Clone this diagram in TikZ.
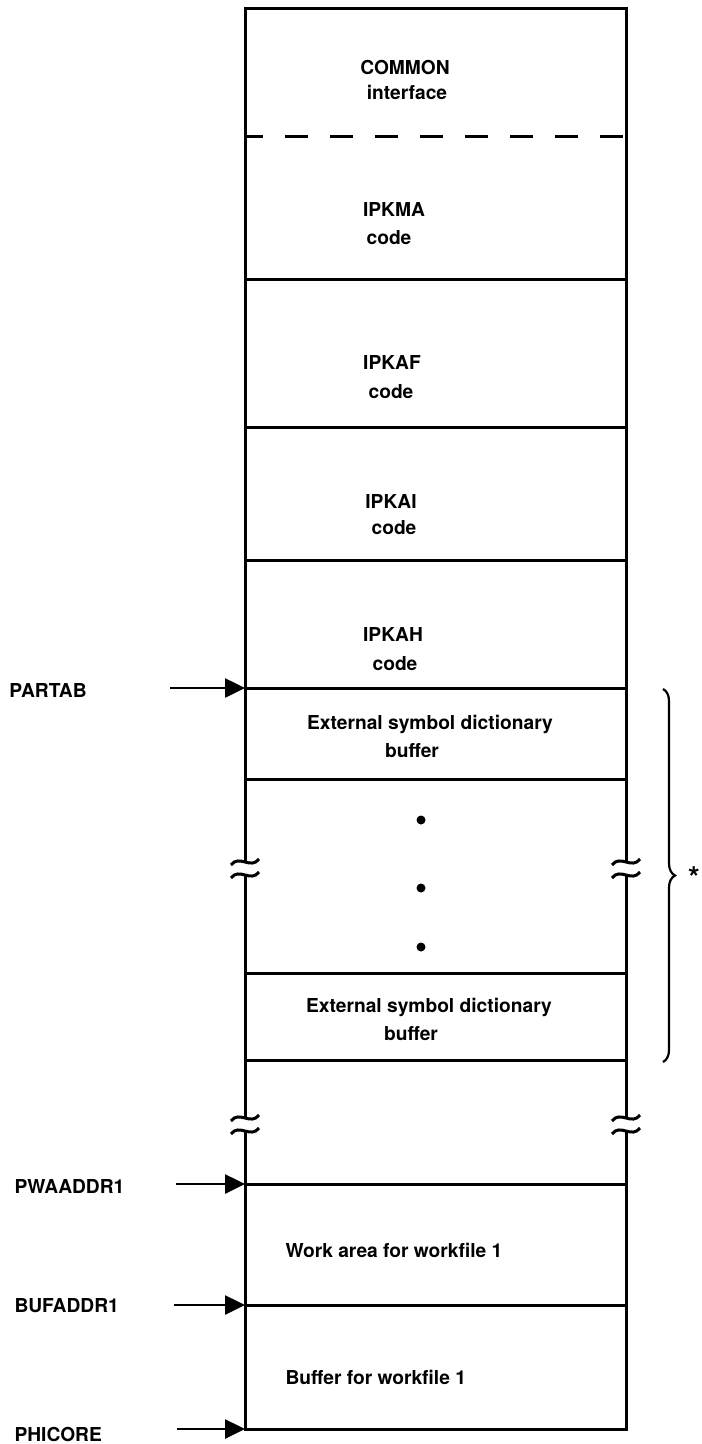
\documentclass[tikz,border=0pt]{standalone}
\usepackage{fontspec}
\setmainfont{TeX Gyre Heros}
\usetikzlibrary{arrows.meta,decorations.pathreplacing}
% one wavy stroke of a break mark, centred at (#1,#2)
\newcommand{\brkmark}[2]{%
  \draw (#1-14,#2+3) .. controls (#1-6,#2-8) and (#1+6,#2+8) .. (#1+14,#2-3);}

\begin{document}
\begin{tikzpicture}[x=0.5pt,y=-0.5pt,line width=1.5pt,
  lbl/.style={font=\fontsize{9.6}{11}\bfseries,anchor=base,inner sep=0pt},
  addr/.style={font=\fontsize{9.6}{11}\bfseries,anchor=base west,inner sep=0pt},
  ptr/.style={line width=1.3pt,-{Triangle[length=10pt,width=9.5pt]}}]
\useasboundingbox (0,0) rectangle (701,1444);
% walls of the storage map, broken twice
\draw (245,862) -- (245,9) -- (626,9) -- (626,862);
\draw (245,875) -- (245,1118);
\draw (626,875) -- (626,1118);
\draw (245,1131) -- (245,1429) -- (626,1429) -- (626,1131);
\foreach \x in {245,626}{
  \brkmark{\x}{862}
  \brkmark{\x}{875}
  \brkmark{\x}{1118}
  \brkmark{\x}{1131}
}
% dividers
\draw[dash pattern=on 11.5pt off 11pt,dash phase=2.5pt] (245,137) -- (626,137);
\foreach \y in {280,427,560,688,779,973,1060,1184,1305}
  \draw (245,\y) -- (626,\y);
% area texts
\node[lbl] (common) at (405,75) {COMMON};
\node[lbl] (commonb) at (407,100) {interface};
\node[lbl] (ipkma) at (394,217) {IPKMA};
\node[lbl] (ipkmab) at (389,245) {code};
\node[lbl] (ipkaf) at (392,370) {IPKAF};
\node[lbl] (ipkafb) at (391,398) {code};
\node[lbl] (ipkai) at (391,508) {IPKAI};
\node[lbl] (ipkaib) at (394,534) {code};
\node[lbl] (ipkah) at (393,641) {IPKAH};
\node[lbl] (ipkahb) at (395,670) {code};
\node[lbl] (esda) at (430,729) {External symbol dictionary};
\node[lbl] (esdab) at (412,757) {buffer};
\node[lbl] (esdb) at (429,1012) {External symbol dictionary};
\node[lbl] (esdbb) at (411,1040) {buffer};
\node[lbl,anchor=base west] (work) at (284,1257) {Work area for workfile 1};
\node[lbl,anchor=base west] (buf) at (284,1384) {Buffer for workfile 1};
\foreach \y in {820,888,947}
  \fill (421,\y) circle (4.5);
% repeated part
\draw[line width=1.1pt,decorate,decoration={brace,amplitude=6pt}] (663,689) -- (663,1062);
\node[lbl,font=\fontsize{15}{15}\bfseries] (star) at (694,888) {*};
% pointers
\node[addr] (partab) at (8,697) {PARTAB};
\node[addr] (pwaaddr) at (13,1193) {PWAADDR1};
\node[addr] (bufaddr) at (13,1312) {BUFADDR1};
\node[addr] (phicore) at (13,1441) {PHICORE};
\coordinate (partab-t) at (170,688);
\coordinate (partab-h) at (245,688);
\coordinate (pwaaddr-t) at (176,1184);
\coordinate (pwaaddr-h) at (245,1184);
\coordinate (bufaddr-t) at (174,1305);
\coordinate (bufaddr-h) at (245,1305);
\coordinate (phicore-t) at (177,1429);
\coordinate (phicore-h) at (245,1429);
\foreach \p in {partab,pwaaddr,bufaddr,phicore}
  \draw[ptr] (\p-t) -- (\p-h);
\end{tikzpicture}
\end{document}
